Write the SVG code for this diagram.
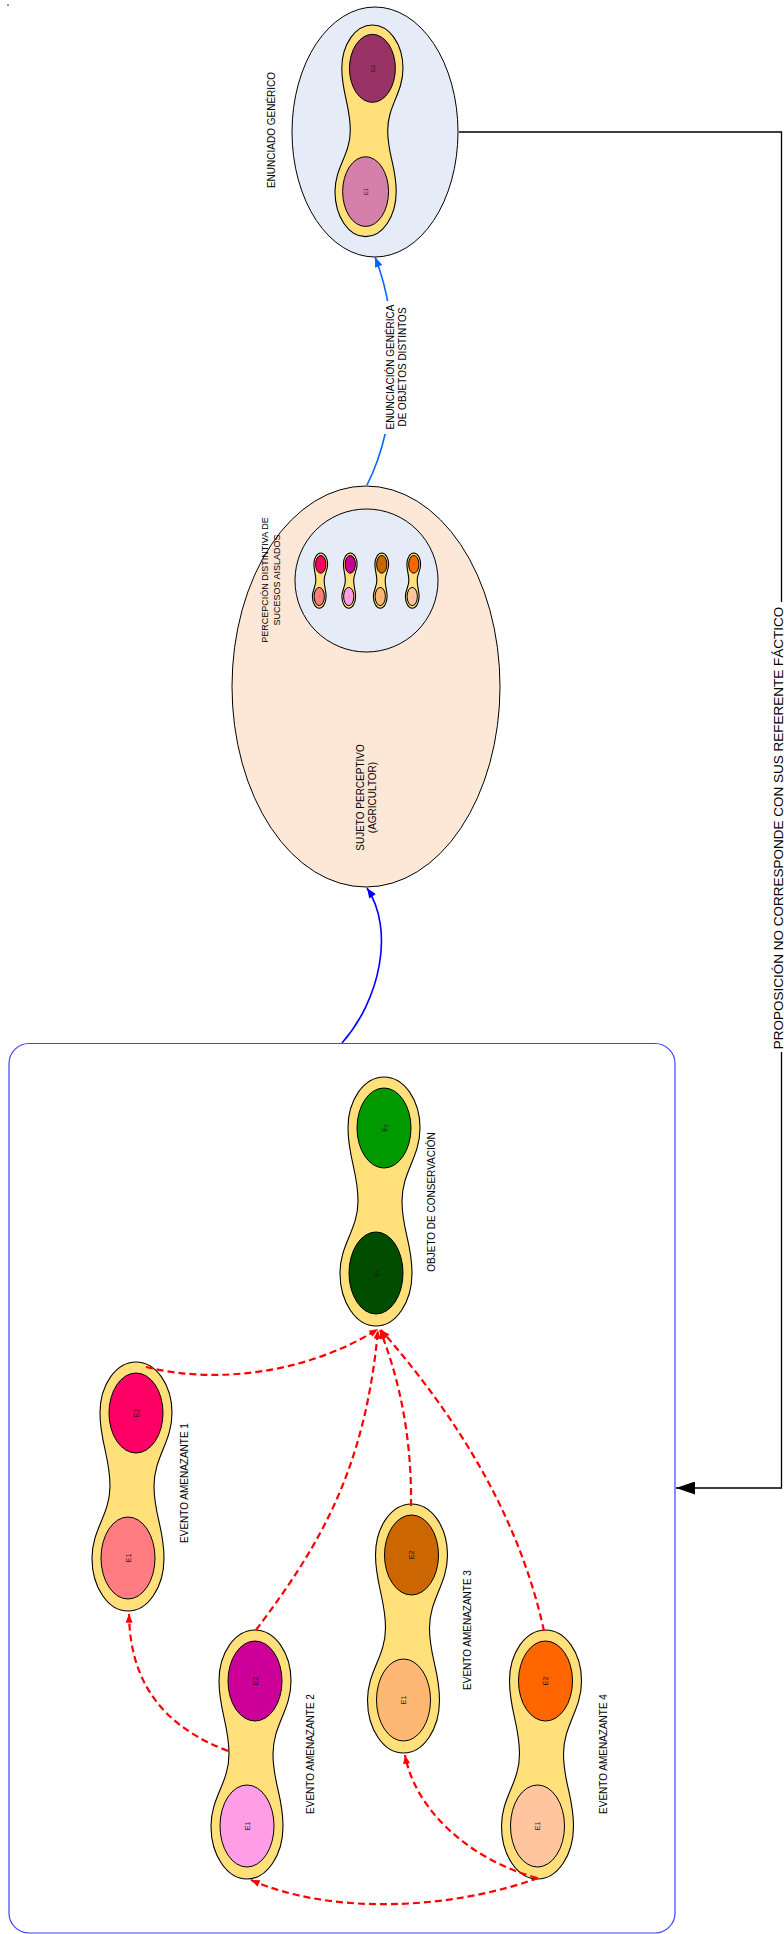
<svg xmlns="http://www.w3.org/2000/svg" width="784" height="1934" viewBox="0 0 784 1934">
<style>
text{font-family:"Liberation Sans",Arial,sans-serif;fill:#000}
.lbl{font-size:10px;text-anchor:middle}
.lbl9{font-size:9px;text-anchor:middle}
.in{font-size:7px;text-anchor:middle;fill:#1a1a1a}
.el{stroke:#000;stroke-width:1}
.red{fill:none;stroke:#FF0000;stroke-width:2.2;stroke-dasharray:7 4}
</style>
<defs>
<path id="peanut" fill="#FFE07B" stroke="#000" stroke-width="1.1" vector-effect="non-scaling-stroke" d="M4,0 C23.9,0 40,22.8 40,51 C40,80 22,95 22,124 C22,153 32,166 32,196 C32,225.3 15.9,249 -4,249 C-23.9,249 -40,225.3 -40,196 C-40,167 -22,153 -22,124 C-22,95 -32,80 -32,51 C-32,22.8 -15.9,0 4,0 Z"/>
<marker id="aRed" viewBox="0 0 10 8" refX="10" refY="4" markerWidth="10" markerHeight="7" markerUnits="userSpaceOnUse" orient="auto"><path d="M0,0 L10,4 L0,8 Z" fill="#FF0000"/></marker>
<marker id="aBlue" viewBox="0 0 10 8" refX="10" refY="4" markerWidth="11" markerHeight="8" markerUnits="userSpaceOnUse" orient="auto"><path d="M0,0 L10,4 L0,8 Z" fill="#0000FF"/></marker>
<marker id="aAzure" viewBox="0 0 10 8" refX="10" refY="4" markerWidth="11" markerHeight="8" markerUnits="userSpaceOnUse" orient="auto"><path d="M0,0 L10,4 L0,8 Z" fill="#0066FF"/></marker>
<marker id="aBlack" viewBox="0 0 19 13" refX="19" refY="6.5" markerWidth="19" markerHeight="13" markerUnits="userSpaceOnUse" orient="auto"><path d="M0,0 L19,6.5 L0,13 Z" fill="#000"/></marker>
</defs>
<rect width="784" height="1934" fill="#fff"/>
<rect x="7" y="4.5" width="2" height="1.2" fill="#555"/>

<g id="contenedor">
<rect x="9" y="1043.5" width="666" height="889.5" rx="20" ry="20" fill="none" stroke="#4040FF" stroke-width="1.2"/>
</g>

<g id="enunciado">
<ellipse cx="375" cy="132" rx="83" ry="125" fill="#E5ECF7" class="el"/>
<g transform="translate(369,25) scale(0.85)">
<use href="#peanut"/>
<ellipse cx="4" cy="51" rx="27" ry="40" fill="#993366" class="el" vector-effect="non-scaling-stroke"/>
<ellipse cx="-4" cy="196" rx="27" ry="41" fill="#D580AA" class="el" vector-effect="non-scaling-stroke"/>
<text class="in" transform="translate(4,51) rotate(-90)" dy="2.5">E2</text>
<text class="in" transform="translate(-4,196) rotate(-90)" dy="2.5">E1</text>
</g>
<text class="lbl" transform="translate(274.5,130) rotate(-90)">ENUNCIADO GENÉRICO</text>
</g>

<g id="sujeto">
<ellipse cx="366" cy="686.5" rx="134" ry="200.5" fill="#FDE8D7" class="el"/>
<circle cx="366.5" cy="580.5" r="71.5" fill="#E5ECF7" class="el"/>
<g transform="translate(320,553) scale(0.19,0.222)">
<use href="#peanut"/>
<ellipse cx="4" cy="51" rx="27" ry="40" fill="#FF0066" class="el" vector-effect="non-scaling-stroke"/>
<ellipse cx="-4" cy="196" rx="27" ry="41" fill="#FF7C80" class="el" vector-effect="non-scaling-stroke"/>
<text class="in" transform="translate(4,51) rotate(-90)" dy="2.5">E2</text>
<text class="in" transform="translate(-4,196) rotate(-90)" dy="2.5">E1</text>
</g>
<g transform="translate(349.5,553) scale(0.19,0.222)">
<use href="#peanut"/>
<ellipse cx="4" cy="51" rx="27" ry="40" fill="#CC0099" class="el" vector-effect="non-scaling-stroke"/>
<ellipse cx="-4" cy="196" rx="27" ry="41" fill="#FF9DE6" class="el" vector-effect="non-scaling-stroke"/>
<text class="in" transform="translate(4,51) rotate(-90)" dy="2.5">E2</text>
<text class="in" transform="translate(-4,196) rotate(-90)" dy="2.5">E1</text>
</g>
<g transform="translate(381,553) scale(0.19,0.222)">
<use href="#peanut"/>
<ellipse cx="4" cy="51" rx="27" ry="40" fill="#CC6600" class="el" vector-effect="non-scaling-stroke"/>
<ellipse cx="-4" cy="196" rx="27" ry="41" fill="#FFB874" class="el" vector-effect="non-scaling-stroke"/>
<text class="in" transform="translate(4,51) rotate(-90)" dy="2.5">E2</text>
<text class="in" transform="translate(-4,196) rotate(-90)" dy="2.5">E1</text>
</g>
<g transform="translate(413,553) scale(0.19,0.222)">
<use href="#peanut"/>
<ellipse cx="4" cy="51" rx="27" ry="40" fill="#FF6600" class="el" vector-effect="non-scaling-stroke"/>
<ellipse cx="-4" cy="196" rx="27" ry="41" fill="#FFC59E" class="el" vector-effect="non-scaling-stroke"/>
<text class="in" transform="translate(4,51) rotate(-90)" dy="2.5">E2</text>
<text class="in" transform="translate(-4,196) rotate(-90)" dy="2.5">E1</text>
</g>
<text class="lbl9" transform="translate(268.3,580) rotate(-90)"><tspan x="0" y="0">PERCEPCIÓN DISTINTIVA DE</tspan><tspan x="0" y="11.7">SUCESOS AISLADOS</tspan></text>
<text class="lbl" transform="translate(363.6,797.5) rotate(-90)"><tspan x="0" y="0">SUJETO PERCEPTIVO</tspan><tspan x="0" y="12.7">(AGRICULTOR)</tspan></text>
</g>

<g id="objeto">
<g transform="translate(380,1077)">
<use href="#peanut"/>
<ellipse cx="4" cy="51" rx="27" ry="40" fill="#009900" class="el"/>
<ellipse cx="-4" cy="196" rx="27" ry="41" fill="#004D00" class="el"/>
<text class="in" transform="translate(4,51) rotate(-90)" dy="2.5">E<tspan font-size="5" dy="1.5">2</tspan></text>
<text class="in" transform="translate(-4,196) rotate(-90)" dy="2.5">E<tspan font-size="5" dy="1.5">1</tspan></text>
</g>
<text class="lbl" transform="translate(435,1202) rotate(-90)">OBJETO DE CONSERVACIÓN</text>
</g>

<g id="evento1">
<g transform="translate(132,1362)">
<use href="#peanut"/>
<ellipse cx="4" cy="51" rx="27" ry="40" fill="#FF0066" class="el"/>
<ellipse cx="-4" cy="196" rx="27" ry="41" fill="#FF7C80" class="el"/>
<text class="in" transform="translate(4,51) rotate(-90)" dy="2.5">E2</text>
<text class="in" transform="translate(-4,196) rotate(-90)" dy="2.5">E1</text>
</g>
<text class="lbl" transform="translate(188,1483) rotate(-90)">EVENTO AMENAZANTE 1</text>
</g>

<g id="evento2">
<g transform="translate(251,1630)">
<use href="#peanut"/>
<ellipse cx="4" cy="51" rx="27" ry="40" fill="#CC0099" class="el"/>
<ellipse cx="-4" cy="196" rx="27" ry="41" fill="#FF9DE6" class="el"/>
<text class="in" transform="translate(4,51) rotate(-90)" dy="2.5">E2</text>
<text class="in" transform="translate(-4,196) rotate(-90)" dy="2.5">E1</text>
</g>
<text class="lbl" transform="translate(314,1754) rotate(-90)">EVENTO AMENAZANTE 2</text>
</g>

<g id="evento3">
<g transform="translate(407.5,1504)">
<use href="#peanut"/>
<ellipse cx="4" cy="51" rx="27" ry="40" fill="#CC6600" class="el"/>
<ellipse cx="-4" cy="196" rx="27" ry="41" fill="#FFB874" class="el"/>
<text class="in" transform="translate(4,51) rotate(-90)" dy="2.5">E2</text>
<text class="in" transform="translate(-4,196) rotate(-90)" dy="2.5">E1</text>
</g>
<text class="lbl" transform="translate(471,1630) rotate(-90)">EVENTO AMENAZANTE 3</text>
</g>

<g id="evento4">
<g transform="translate(541.5,1630)">
<use href="#peanut"/>
<ellipse cx="4" cy="51" rx="27" ry="40" fill="#FF6600" class="el"/>
<ellipse cx="-4" cy="196" rx="27" ry="41" fill="#FFC59E" class="el"/>
<text class="in" transform="translate(4,51) rotate(-90)" dy="2.5">E2</text>
<text class="in" transform="translate(-4,196) rotate(-90)" dy="2.5">E1</text>
</g>
<text class="lbl" transform="translate(606.5,1754) rotate(-90)">EVENTO AMENAZANTE 4</text>
</g>

<g id="conectores">
<path d="M459,132 H781.5 V1488 H676" fill="none" stroke="#000" stroke-width="1.3" marker-end="url(#aBlack)"/>
<rect x="772" y="602" width="12" height="450" fill="#fff"/>
<text transform="translate(783,828) rotate(-90)" font-size="13.5" text-anchor="middle">PROPOSICIÓN NO CORRESPONDE CON SUS REFERENTE FÁCTICO</text>

<path d="M342,1043 C380,1000 395,930 367,888" fill="none" stroke="#0000FF" stroke-width="1.6" marker-end="url(#aBlue)"/>
<path d="M367,485 C400,420 400,320 375,257" fill="none" stroke="#0066FF" stroke-width="1.6" marker-end="url(#aAzure)"/>
<rect x="384" y="301" width="25" height="133" fill="#fff"/>
<text class="lbl" transform="translate(393.6,367) rotate(-90)"><tspan x="0" y="0">ENUNCIACIÓN GENÉRICA</tspan><tspan x="0" y="12.7">DE OBJETOS DISTINTOS</tspan></text>

<path class="red" d="M146,1367 C220,1385 310,1372 378,1329" marker-end="url(#aRed)"/>
<path class="red" d="M256,1630 C320,1545 365,1470 378,1330" marker-end="url(#aRed)"/>
<path class="red" d="M411,1506 C412,1440 400,1380 380,1330" marker-end="url(#aRed)"/>
<path class="red" d="M544,1631 C520,1520 460,1420 381,1330" marker-end="url(#aRed)"/>
<path class="red" d="M228,1751 C160,1725 130,1680 129,1614" marker-end="url(#aRed)"/>
<path class="red" d="M537,1878 C470,1860 415,1810 405,1755" marker-end="url(#aRed)"/>
<path class="red" d="M538,1878 C450,1910 330,1915 251,1880" marker-end="url(#aRed)"/>
</g>
</svg>
